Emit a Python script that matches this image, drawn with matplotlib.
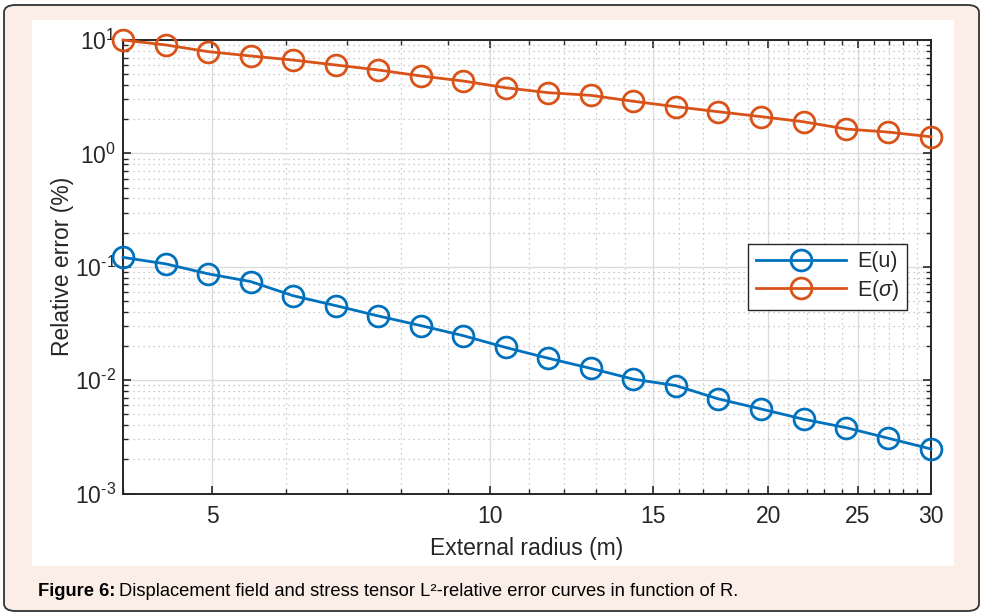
import matplotlib
matplotlib.use("Agg")
import matplotlib.pyplot as plt
from matplotlib.patches import FancyBboxPatch, Rectangle
from matplotlib.ticker import FixedLocator, NullFormatter, LogLocator, FuncFormatter

plt.rcParams["font.family"] = ["Liberation Sans", "DejaVu Sans"]
plt.rcParams["mathtext.fontset"] = "custom"
plt.rcParams["mathtext.rm"] = "Liberation Sans"
plt.rcParams["mathtext.it"] = "Liberation Sans:italic"
plt.rcParams["mathtext.bf"] = "Liberation Sans:bold"
plt.rcParams["mathtext.default"] = "regular"

# external radius R (m)
radius = [4.0, 4.45, 4.95, 5.50, 6.11, 6.80, 7.56, 8.40, 9.34, 10.39,
          11.55, 12.84, 14.28, 15.88, 17.65, 19.63, 21.83, 24.27, 26.98, 30.0]
# relative errors (%)
err_u = [0.121, 0.106, 0.0865, 0.0740, 0.0556, 0.0454, 0.0368, 0.0303, 0.0247, 0.0194,
         0.0156, 0.0127, 0.0102, 0.00895, 0.00683, 0.00557, 0.00452, 0.00381, 0.00307, 0.00247]
err_sigma = [10.0, 9.04, 7.89, 7.23, 6.66, 6.02, 5.44, 4.82, 4.35, 3.79,
             3.43, 3.25, 2.88, 2.58, 2.33, 2.11, 1.90, 1.64, 1.54, 1.40]
x_major = [5, 10, 15, 20, 25, 30]

BLUE, ORANGE, INK = "#0072BD", "#D95319", "#262626"


def pow10_label(v, pos):
    # MATLAB-style 10^n with a short hyphen for negatives
    import math
    e = int(round(math.log10(v)))
    s = str(e).replace("-", "\u2010")
    return "10$^{%s}$" % s


fig = plt.figure(figsize=(9.81, 6.15), dpi=100)
fig.patch.set_facecolor("white")

# page frame: peach rounded box + white chart panel
fig.add_artist(FancyBboxPatch((4 / 981, 4 / 615), 975 / 981, 606 / 615,
                              boxstyle="round,pad=0,rounding_size=0.012",
                              transform=fig.transFigure, facecolor="#FBEEE6",
                              edgecolor="#333333", lw=1.3, zorder=-3))
fig.add_artist(Rectangle((32 / 981, 1 - 566 / 615), 922 / 981, 546 / 615,
                         transform=fig.transFigure, facecolor="white",
                         edgecolor="none", zorder=-2))

ax = fig.add_axes([123 / 981, 1 - 493.5 / 615, 808 / 981, 453.5 / 615])
ax.set_facecolor("white")

ax.plot(radius, err_u, "-o", color=BLUE, lw=2.0, ms=15, mew=2.0,
        mfc="none", label="E(u)", clip_on=False, zorder=4)
ax.plot(radius, err_sigma, "-o", color=ORANGE, lw=2.0, ms=15, mew=2.0,
        mfc="none", label=r"E($\it{\sigma}$)", clip_on=False, zorder=4)

ax.set_xscale("log")
ax.set_yscale("log")
ax.set_xlim(4, 30)
ax.set_ylim(1e-3, 1e1)

ax.xaxis.set_major_locator(FixedLocator(x_major))
ax.set_xticklabels([str(v) for v in x_major])
ax.xaxis.set_minor_locator(FixedLocator([v for v in range(4, 31) if v not in x_major]))
ax.xaxis.set_minor_formatter(NullFormatter())
ax.yaxis.set_major_locator(LogLocator(base=10, numticks=10))
ax.yaxis.set_major_formatter(FuncFormatter(pow10_label))
ax.yaxis.set_minor_locator(LogLocator(base=10, subs=range(2, 10), numticks=20))
ax.yaxis.set_minor_formatter(NullFormatter())

ax.grid(True, which="major", color="#DCDCDC", lw=1.0, ls="-")
ax.grid(True, which="minor", color="#BDBDBD", lw=0.9, ls=(0, (1, 3)))
ax.set_axisbelow(True)

for s in ax.spines.values():
    s.set_color(INK)
    s.set_linewidth(1.4)
ax.tick_params(which="both", direction="in", top=True, right=True, colors=INK,
               labelsize=16.5, labelcolor=INK)
ax.tick_params(which="major", length=6, width=1.2, pad=8)
ax.tick_params(axis="y", which="major", pad=5)
ax.tick_params(which="minor", length=3.5, width=1.0)

ax.set_xlabel("External radius (m)", fontsize=16.5, color=INK, labelpad=7)
ax.set_ylabel("Relative error (%)", fontsize=16.5, color=INK, labelpad=1)

leg = ax.legend(loc="upper right", bbox_to_anchor=(0.983, 0.574), fontsize=15.5,
                handlelength=4.2, fancybox=False, framealpha=1, borderpad=0.35,
                labelspacing=0.25, handletextpad=0.5)
leg.get_frame().set_edgecolor(INK)
leg.get_frame().set_linewidth(1.0)
for t in leg.get_texts():
    t.set_color(INK)

# caption with bold lead-in
fig.canvas.draw()
cap_y = 1 - 591 / 615
lead = fig.text(38 / 981, cap_y, "Figure 6:", fontsize=13.2, fontweight="bold",
                va="center", ha="left", color="black")
bb = lead.get_window_extent(fig.canvas.get_renderer())
fig.text(bb.x1 / fig.bbox.width + 4 / 981, cap_y,
         "Displacement field and stress tensor L\u00b2-relative error curves in function of R.",
         fontsize=13.2, va="center", ha="left", color="black")

fig.savefig("out.png", dpi=100)
